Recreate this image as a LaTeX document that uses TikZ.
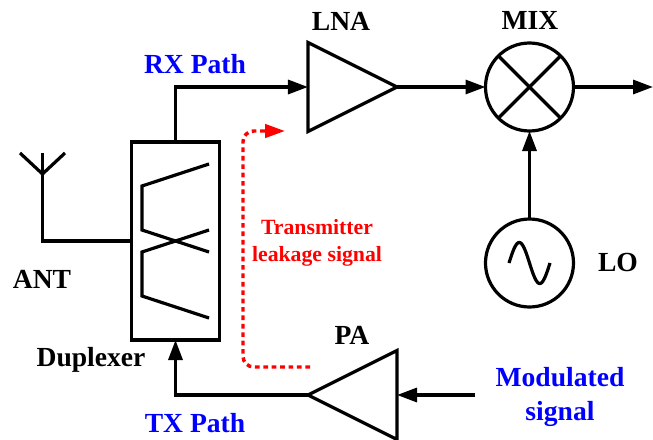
\documentclass[tikz,border=0pt]{standalone}
\usepackage{fontspec}
\setmainfont{Liberation Serif}
\usetikzlibrary{arrows.meta,shapes.geometric}
\definecolor{pathblue}{RGB}{0,0,255}
\tikzset{
  wire/.style={line width=2.4pt,line join=miter},
  sig/.style={wire,-{Triangle[length=15pt,width=10.5pt]}},
  leak/.style={line width=2.6pt,red,dash pattern=on 3.5pt off 2.8pt,rounded corners=8pt,-{Triangle[length=15pt,width=10pt]}},
  amp/.style={draw,line width=2.4pt,isosceles triangle,isosceles triangle stretches,minimum width=66.75pt,minimum height=66.75pt,inner sep=0pt,outer sep=0pt,anchor=apex},
  ring/.style={draw,line width=2.4pt,circle,minimum size=66pt,inner sep=0pt,outer sep=0pt},
  lab/.style={font=\fontsize{20.7}{25}\selectfont\bfseries,inner sep=0pt,align=center},
  bluelab/.style={lab,text=pathblue},
  redlab/.style={font=\fontsize{16.3}{20}\selectfont\bfseries,text=red,inner sep=0pt,align=center}
}
\begin{document}
\begin{tikzpicture}[x=0.75pt,y=-0.75pt]
        \useasboundingbox (0,0) rectangle (653,439);
        %blocks
        \node[draw,line width=2.4pt,minimum width=66pt,minimum height=148.5pt,inner sep=0pt,outer sep=0pt] (dup) at (175.5,241) {};
        \node[amp] (lna) at (397,87) {};
        \node[amp,shape border rotate=180] (pa) at (308,395) {};
        \node[ring] (mix) at (529.5,87) {};
        \node[ring] (lo) at (529.5,263) {};
        %antenna
        \coordinate (ant) at (42.5,174);
        \coordinate (anttop) at (42.5,153);
        \coordinate (antl) at (20,153);
        \coordinate (antr) at (65,153);
        \coordinate (out) at (653,87);
        \coordinate (modin) at (475,395);
        \draw[wire] (antl)-- (ant)-- (antr);
        \draw[wire] (anttop)-- (ant)|- (dup.west);
        %filter curves
        \draw[wire] (209,164)-- (142,186)-- (142,230)-- (209,252);
        \draw[wire] (209,230)-- (142,252)-- (142,296)-- (209,318);
        %mixer cross and oscillator
        \draw[wire] (mix.45)-- (mix.225);
        \draw[wire] (mix.135)-- (mix.315);
        \draw[wire, domain=509:550, samples=60, smooth] plot (\x, {263-20.5*sin(360*(\x-509)/41)});
        %signal paths
        \draw[sig] (dup.north)|- (lna.west);
        \draw[sig] (lna.apex)-- (mix.west);
        \draw[sig] (mix.east)-- (out);
        \draw[sig] (lo.north)-- (mix.south);
        \draw[sig] (modin)-- (pa.east);
        \draw[sig] (pa.apex)-| (dup.south);
        %leakage
        \coordinate (leakstart) at (310,367);
        \coordinate (leakend) at (285,131);
        \draw[leak] (leakstart)-| (243,131)-- (leakend);
        %labels
        \node[lab] (lnalab) at (341,21) {LNA};
        \node[lab] (mixlab) at (530,20) {MIX};
        \node[lab] (antlab) at (42,279) {ANT};
        \node[lab] (duplab) at (91,360) {Duplexer};
        \node[lab] (palab) at (352,335) {PA};
        \node[lab] (lolab) at (618,262) {LO};
        \node[bluelab] (rxlab) at (195,64) {RX Path};
        \node[bluelab] (txlab) at (195,423) {TX Path};
        \node[bluelab] (modlab) at (560,397) {Modulated\\signal};
        \node[redlab] (leaklab) at (317,243) {Transmitter\\leakage signal};
\end{tikzpicture}
\end{document}
